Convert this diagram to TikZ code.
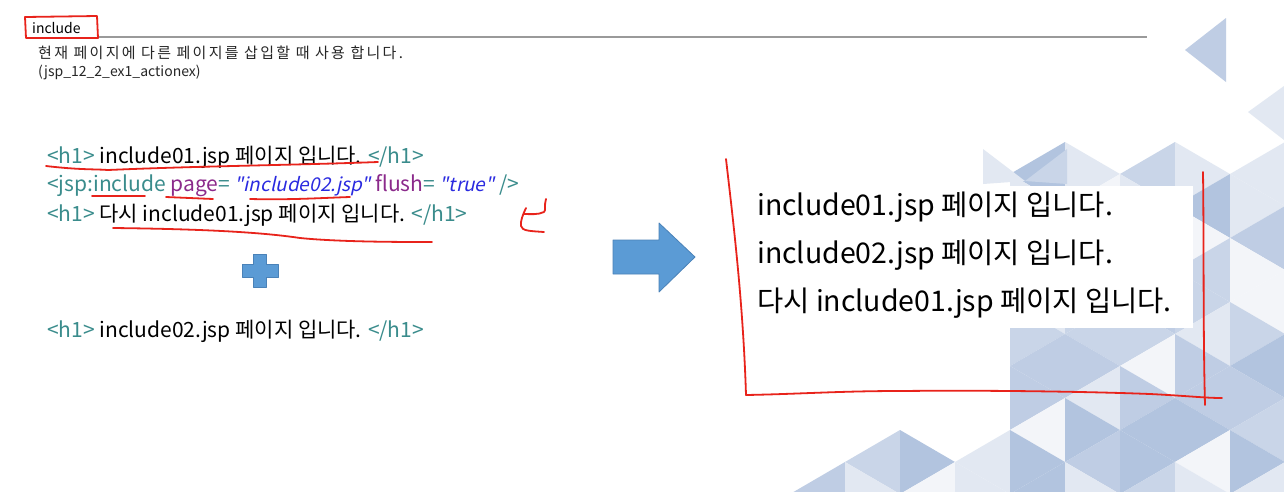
\documentclass[tikz,border=0pt]{standalone}
\usepackage{fontspec}
\setmainfont{Noto Sans CJK KR}
\newfontfamily\slantfont[FakeSlant=0.22]{Noto Sans CJK KR}
\newfontfamily\widekr[LetterSpace=15]{Noto Sans CJK KR}
\usepackage{xcolor}
\usepackage{tikz}
\usetikzlibrary{positioning}

\definecolor{tagteal}{HTML}{3A8C8C}
\definecolor{attrpurple}{HTML}{8B2A8B}
\definecolor{valblue}{HTML}{2A2AE0}
\definecolor{penred}{HTML}{E8231B}
\definecolor{shapeblue}{HTML}{5B9BD5}
\definecolor{shapeedge}{HTML}{4A82B8}
\definecolor{rulegray}{HTML}{9A9A9A}
\definecolor{triA}{HTML}{E2E8F2}
\definecolor{triB}{HTML}{C9D5E8}
\definecolor{triC}{HTML}{B2C4DF}
\definecolor{triD}{HTML}{BFCDE4}
\definecolor{triW}{HTML}{F3F5F9}

\newcommand{\tagtxt}[1]{\textcolor{tagteal}{#1}}
\newcommand{\attrtxt}[1]{\textcolor{attrpurple}{#1}}
\newcommand{\valtxt}[1]{\textcolor{valblue}{\slantfont\fontsize{19}{22}\selectfont #1}}

\begin{document}
\begin{tikzpicture}[
    x=1pt, y=-1pt,
    heading/.style={anchor=west, inner sep=0pt, font=\fontsize{14}{16}\selectfont},
    note/.style={anchor=west, inner sep=0pt, font=\fontsize{14}{16}\selectfont, text=black!85},
    codeline/.style={anchor=west, inner sep=0pt, font=\fontsize{21}{24}\selectfont},
    resultline/.style={anchor=west, inner sep=0pt, font=\fontsize{28.5}{32}\selectfont},
    redpen/.style={draw=penred, line width=1.8pt, line cap=round, line join=round},
    bluefill/.style={fill=shapeblue, draw=shapeedge, line width=0.8pt, line join=round},
    tri0/.style={},
    tri1/.style={fill=triA},
    tri2/.style={fill=triB},
    tri3/.style={fill=triC},
    tri4/.style={fill=triW},
    tri5/.style={fill=triD}
]
\useasboundingbox (0,0) rectangle (1284,491);
\fill[white] (0,0) rectangle (1284,491);

% background pattern of the slide
\begin{scope}
\clip (0,0) rectangle (1284,491);
\foreach \k in {0,...,9}{
  \foreach \j in {-1,...,6}{
    \pgfmathsetmacro{\xl}{790+55*\k}
    \pgfmathsetmacro{\xr}{\xl+55}
    \pgfmathsetmacro{\yt}{110+64*\j-32*mod(\k,2)}
    \pgfmathtruncatemacro{\ina}{((\xl>1000)&&(\yt>120)) || (\yt+32>500-0.35*(\xl-780))}
    \pgfmathtruncatemacro{\inb}{((\xr>1050)&&(\yt>100)) || (\yt+64>500-0.35*(\xr-780))}
    \pgfmathtruncatemacro{\ca}{\ina*(1+mod(\k*5+\j*3+7,5))}
    \pgfmathtruncatemacro{\cb}{\inb*(1+mod(\k*2+\j*4+9,5))}
    \path[tri\ca] (\xl,\yt) -- (\xl,\yt+64) -- (\xr,\yt+32) -- cycle;
    \path[tri\cb] (\xr,\yt+32) -- (\xr,\yt+96) -- (\xl,\yt+64) -- cycle;
  }
}
\fill[triD] (1185,50) -- (1226,18) -- (1226,82) -- cycle;
\fill[triA] (1248,112) -- (1284,86) -- (1284,140) -- cycle;
\fill[triA] (983,149) -- (1025,181) -- (983,184) -- cycle;
\fill[triB] (1067,149) -- (1025,181) -- (1067,184) -- cycle;
\end{scope}
\fill[white] (740,186) rectangle (1193,328);

% Heading
\node[heading] (title) at (32,28) {include};
\draw[rulegray, line width=1.2pt] (97,37) -- (1147,37);
\node[note, font=\fontsize{15}{17}\selectfont] (desc) at (38,53) {\widekr 현재 페이지에 다른 페이지를 삽입할 때 사용 합니다.};
\node[note] (proj) at (38,72) {(jsp\_12\_2\_ex1\_actionex)};

% Source lines
\node[codeline] (src1) at (47,157) {\tagtxt{<h1>} include01.jsp 페이지 입니다. \tagtxt{</h1>}};
\node[codeline] (src2) at (47,186) {\tagtxt{<jsp:include} \attrtxt{page}\tagtxt{=} \valtxt{"include02.jsp"} \attrtxt{flush}\tagtxt{=} \valtxt{"true"} \tagtxt{/>}};
\node[codeline] (src3) at (47,215) {\tagtxt{<h1>} 다시 include01.jsp 페이지 입니다. \tagtxt{</h1>}};
\node[codeline] (src4) at (47,331) {\tagtxt{<h1>} include02.jsp 페이지 입니다. \tagtxt{</h1>}};

% Plus sign
\draw[bluefill] (253,254) -- (266,254) -- (266,264) -- (278,264) -- (278,277)
  -- (266,277) -- (266,287) -- (253,287) -- (253,277) -- (242,277) -- (242,264)
  -- (253,264) -- cycle;

% Block arrow
\draw[bluefill] (613,240) -- (659,240) -- (659,223) -- (695,257) -- (659,292)
  -- (659,274) -- (613,274) -- cycle;

% Result
\node[resultline] (out1) at (757,207) {include01.jsp 페이지 입니다.};
\node[resultline] (out2) at (757,255) {include02.jsp 페이지 입니다.};
\node[resultline] (out3) at (757,303) {다시 include01.jsp 페이지 입니다.};

% Pen marks
\draw[redpen] (25,17) -- (97,16) -- (98,38) -- (26,38) -- cycle;
\draw[redpen] (46,166) .. controls (80,170) and (95,169) .. (108,170)
  .. controls (200,166) and (300,165) .. (378,162);
\draw[redpen] (92,196) -- (145,196);
\draw[redpen] (166,197) -- (213,199);
\draw[redpen] (250,199) .. controls (290,200) and (320,198) .. (350,197);
\draw[redpen] (113,228) .. controls (200,229) and (260,232) .. (300,238)
  .. controls (340,242) and (400,242) .. (432,242);
\draw[redpen] (546,199) .. controls (544,205) and (546,211) .. (544,212)
  .. controls (538,215) and (530,214) .. (524,214);
\draw[redpen] (526,208) .. controls (523,214) and (520,222) .. (521,226)
  .. controls (522,231) and (530,231) .. (544,232);
\draw[redpen] (726,159) .. controls (733,220) and (743,300) .. (746,395);
\draw[redpen] (746,395) .. controls (800,394) and (840,391) .. (900,391)
  .. controls (1000,390) and (1100,392) .. (1150,394)
  .. controls (1190,396) and (1205,398) .. (1222,398);
\draw[redpen] (1203,172) .. controls (1204,250) and (1203,330) .. (1205,405);

\end{tikzpicture}
\end{document}
